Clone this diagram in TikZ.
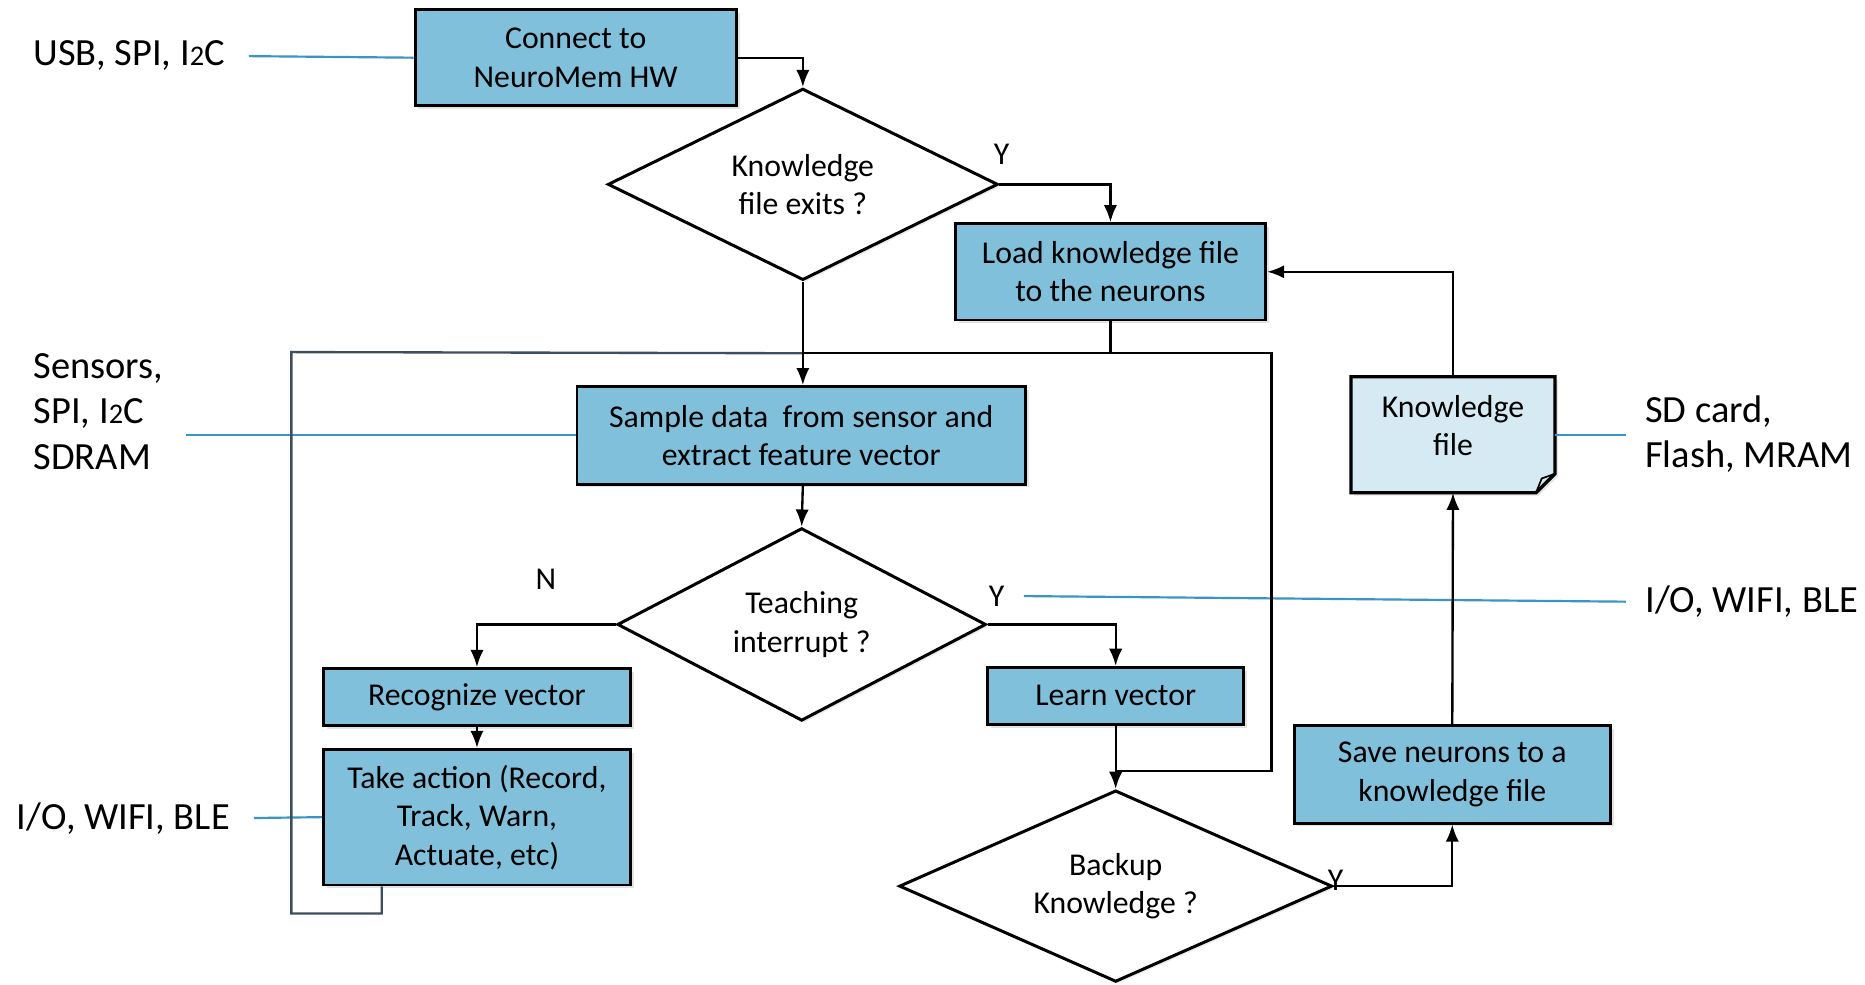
\documentclass[tikz,border=0pt]{standalone}
\usepackage{fontspec}
\setmainfont{Carlito}
\usetikzlibrary{shapes.geometric,arrows.meta,shadows}
\definecolor{boxblue}{RGB}{128,192,218}
\definecolor{fileblue}{RGB}{213,234,243}
\definecolor{linkblue}{RGB}{58,148,198}
\definecolor{loopgray}{RGB}{62,78,96}
\newcommand{\otwo}{{\fontsize{17}{17}\selectfont 2}}
\tikzset{
  boxfont/.style={font=\fontsize{19}{23}\selectfont},
  stepbox/.style={draw, line width=1.7pt, fill=boxblue, align=center, inner sep=0pt, boxfont,
    drop shadow={shadow xshift=0.07cm, shadow yshift=-0.07cm, opacity=0.22}},
  decision/.style={draw, diamond, aspect=2, line width=1.8pt, fill=white, align=center, inner sep=0pt, boxfont,
    drop shadow={shadow xshift=0.05cm, shadow yshift=-0.05cm, opacity=0.15}},
  side/.style={align=left, inner sep=0pt, anchor=west, font=\fontsize{23}{27}\selectfont},
  yn/.style={inner sep=0pt, boxfont},
  flow/.style={line width=1.4pt, -{Latex[length=0.36cm, width=0.28cm]}},
  plain/.style={line width=1.4pt},
  link/.style={draw=linkblue, line width=1.3pt},
}
\begin{document}
\begin{tikzpicture}
    \useasboundingbox (0,0) rectangle (39.2,-20.7);

    \node[stepbox, minimum width=6.75cm, minimum height=2.025cm] (connect) at (12.1,-1.2125) {Connect to\\NeuroMem HW};
    \node[decision, minimum width=8.2cm, minimum height=4.025cm] (know) at (16.875,-3.875) {Knowledge\\file exits ?};
    \node[stepbox, minimum width=6.525cm, minimum height=2.025cm] (load) at (23.34,-5.7125) {Load knowledge file\\to the neurons};
    \node[stepbox, minimum width=9.425cm, minimum height=2.05cm] (sample) at (16.84,-9.15) {Sample data\ \ from sensor and\\extract feature vector};
    \node[decision, minimum width=7.75cm, minimum height=4.05cm] (teach) at (16.85,-13.125) {Teaching\\interrupt ?};
    \node[stepbox, minimum width=6.45cm, minimum height=1.2cm] (recog) at (10.025,-14.65) {Recognize vector};
    \node[stepbox, minimum width=6.45cm, minimum height=2.85cm] (take) at (10.025,-17.175) {Take action (Record,\\Track, Warn,\\Actuate, etc)};
    \node[stepbox, minimum width=5.375cm, minimum height=1.2cm] (learn) at (23.45,-14.625) {Learn vector};
    \node[decision, minimum width=9.1cm, minimum height=4.025cm] (backup) at (23.45,-18.625) {Backup\\Knowledge ?};
    \node[stepbox, minimum width=6.65cm, minimum height=2.05cm] (save) at (30.525,-16.275) {Save neurons to a\\knowledge file};

    \node[minimum width=4.275cm, minimum height=2.425cm, inner sep=0pt] (kfile) at (30.54,-9.1375) {};
    \draw[line width=2pt, fill=fileblue, drop shadow={shadow xshift=0.06cm, shadow yshift=-0.06cm, opacity=0.22}]
        (kfile.north west) -- (kfile.north east) -- ([yshift=0.4cm]kfile.south east)
        -- ([xshift=-0.4cm]kfile.south east) -- (kfile.south west) -- cycle;
    \draw[line width=1pt] ([xshift=-0.4cm]kfile.south east) -- ([xshift=-0.28cm,yshift=0.3cm]kfile.south east) -- ([yshift=0.4cm]kfile.south east);
    \node[yn, align=center] (kfiletext) at ([yshift=0.19cm]kfile.center) {Knowledge\\file};

    \node[side] (usb) at (0.7,-1.175) {USB, SPI, I\otwo C};
    \node[side] (sensors) at (0.7,-8.65) {Sensors,\\SPI, I\otwo C\\SDRAM};
    \node[side] (ioleft) at (0.35,-17.2) {I/O, WIFI, BLE};
    \node[side] (sdcard) at (34.575,-9.125) {SD card,\\Flash, MRAM};
    \node[side] (ioright) at (34.575,-12.65) {I/O, WIFI, BLE};

    \node[yn] (yknow) at (21.05,-3.25) {Y};
    \node[yn] (yteach) at (20.95,-12.525) {Y};
    \node[yn] (nteach) at (11.475,-12.175) {N};
    \node[yn] (yback) at (28.075,-18.5) {Y};

    \coordinate (jn) at (16.875,-7.425);
    \coordinate (rtop) at (26.725,-7.425);
    \coordinate (rbot) at (26.725,-16.2);
    \coordinate (merge) at (23.45,-16.2);
    \coordinate (lp1) at (8.025,-19.2);
    \coordinate (lp2) at (6.125,-19.2);
    \coordinate (lp3) at (6.125,-7.4);

    \draw[link, shorten <=0.5cm] (usb.east) -- (connect.west);
    \draw[link, shorten <=0.475cm] (sensors.east |- sample.west) -- (sample.west);
    \draw[link, shorten <=0.5cm] (ioleft.east) -- (take.west);
    \draw[link, shorten >=0.4cm] (kfile.east) -- (kfile.east -| sdcard.west);
    \draw[link, shorten <=0.4cm, shorten >=0.4cm] (yteach.east) -- (ioright.west);

    \draw[loopgray, line width=1.4pt] (take.south -| lp1) -- (lp1) -- (lp2) -- (lp3) -- (jn);

    \draw[flow] (connect.east) -| (know.north);
    \draw[flow] (know.east) -| (load.north);
    \draw[flow] (know.south) -- (know.south |- sample.north);
    \draw[plain] (load.south) |- (jn);
    \draw[plain] (load.south |- jn) -- (rtop) -- (rbot) -- (merge);
    \draw[flow] (sample.south -| know.south) -- (teach.north);
    \draw[flow] (teach.west) -| (recog.north);
    \draw[flow] (teach.east) -| (learn.north);
    \draw[flow] (recog.south) -- (take.north);
    \draw[flow] (learn.south) -- (merge) -- (backup.north);
    \draw[flow] (backup.east) -| (save.south);
    \draw[flow] (save.north) -- (kfile.south);
    \draw[flow] (kfile.north) |- (load.east);
\end{tikzpicture}
\end{document}
